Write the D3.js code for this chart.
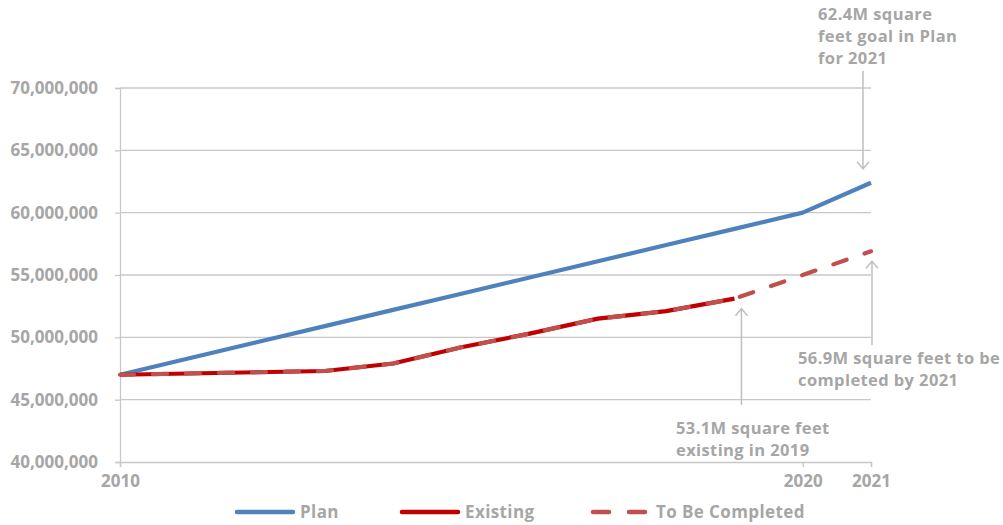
<!DOCTYPE html>
<html>
<head>
<meta charset="utf-8">
<script src="https://cdn.jsdelivr.net/npm/d3@7"></script>
<style>
  html, body { margin: 0; padding: 0; background: #fff; }
  svg { display: block; }
  text { font-family: "Open Sans", Lato, sans-serif; font-weight: 700; fill: #A6A6A6; }
</style>
</head>
<body>
<svg id="chart" width="1003" height="525"></svg>
<script>
// Square footage: plan target, existing space, and space still to be completed
const years = [2010, 2011, 2012, 2013, 2014, 2015, 2016, 2017, 2018, 2019, 2020, 2021];
const planValues = [47.0, 48.3, 49.6, 50.9, 52.2, 53.5, 54.8, 56.1, 57.4, 58.7, 60.0, 62.4].map(v => v * 1e6);
const existingValues = [47.0, 47.1, 47.2, 47.3, 47.9, 49.2, 50.3, 51.5, 52.1, 53.1].map(v => v * 1e6);
const toBeCompletedValues = [47.0, 47.1, 47.2, 47.3, 47.9, 49.2, 50.3, 51.5, 52.1, 53.1, 55.0, 56.9].map(v => v * 1e6);
const yTicks = [40e6, 45e6, 50e6, 55e6, 60e6, 65e6, 70e6];
const xTickYears = [2010, 2020, 2021];

const seriesNames = ["Plan", "Existing", "To Be Completed"];
const colors = { plan: "#4F81BD", existing: "#C00000", tbc: "#C0504D" };

const svg = d3.select("#chart");
const x = d3.scaleLinear().domain([2010, 2021]).range([120, 871]);
const y = d3.scaleLinear().domain([40e6, 70e6]).range([462, 88]);
const gray = "#C8C8C8";
const fontFamily = "'Open Sans', Lato, sans-serif";

// Horizontal gridlines
svg.append("g").selectAll("line")
  .data(yTicks.slice(1))
  .join("line")
  .attr("x1", x(2010)).attr("x2", x(2021))
  .attr("y1", d => y(d)).attr("y2", d => y(d))
  .attr("stroke", gray).attr("stroke-width", 1.3);

// Y axis
const yAxis = svg.append("g")
  .attr("transform", `translate(${x(2010)},0)`)
  .call(d3.axisLeft(y).tickValues(yTicks).tickSize(5).tickPadding(17).tickFormat(d3.format(",")));
yAxis.select(".domain").attr("stroke", gray).attr("stroke-width", 1.3);
yAxis.selectAll(".tick line").attr("stroke", gray).attr("stroke-width", 1.3);
yAxis.selectAll("text").attr("font-size", 17).attr("fill", "#A6A6A6")
  .attr("font-family", fontFamily).attr("font-weight", 700);

// X axis
const xAxis = svg.append("g")
  .attr("transform", `translate(0,${y(40e6)})`)
  .call(d3.axisBottom(x).tickValues(xTickYears).tickSize(5).tickPadding(8).tickFormat(d3.format("d")));
xAxis.select(".domain").attr("stroke", gray).attr("stroke-width", 1.3);
xAxis.selectAll(".tick line").attr("stroke", gray).attr("stroke-width", 1.3);
xAxis.selectAll("text").attr("font-size", 17).attr("fill", "#A6A6A6")
  .attr("font-family", fontFamily).attr("font-weight", 700);

const line = d3.line().x((d, i) => x(years[i])).y(d => y(d));

svg.append("path").datum(planValues)
  .attr("d", line).attr("fill", "none")
  .attr("stroke", colors.plan).attr("stroke-width", 4.2).attr("stroke-linejoin", "round");

svg.append("path").datum(existingValues)
  .attr("d", line).attr("fill", "none")
  .attr("stroke", colors.existing).attr("stroke-width", 4.2).attr("stroke-linejoin", "round");

svg.append("path").datum(toBeCompletedValues)
  .attr("d", line).attr("fill", "none")
  .attr("stroke", colors.tbc).attr("stroke-width", 4.2)
  .attr("stroke-linecap", "round").attr("stroke-linejoin", "round")
  .attr("stroke-dasharray", "14,19");

// Annotation arrows
const arrowColor = "#BFBFBF";
function arrow(xp, yFrom, yTip) {
  const g = svg.append("g").attr("stroke", arrowColor).attr("stroke-width", 1.5).attr("fill", "none");
  g.append("line").attr("x1", xp).attr("x2", xp).attr("y1", yFrom).attr("y2", yTip);
  const dir = yTip > yFrom ? -1 : 1;
  g.append("polyline").attr("points",
    `${xp - 6},${yTip + dir * 7} ${xp},${yTip} ${xp + 6},${yTip + dir * 7}`);
}
arrow(x(2021) - 8, 71, y(62.4e6) - 14);
arrow(x(2021) + 1, 345, y(56.9e6) + 10);
arrow(x(2019) + 7, 405, y(53.1e6) + 10);

// Annotation text
function note(xp, yBase, lines) {
  const t = svg.append("text").attr("font-size", 16.5).attr("letter-spacing", 0.4);
  lines.forEach((s, i) => t.append("tspan").attr("x", xp).attr("y", yBase + i * 22).text(s));
}
note(818, 20, ["62.4M square", "feet goal in Plan", "for 2021"]);
note(798, 364, ["56.9M square feet to be", "completed by 2021"]);
note(676, 434, ["53.1M square feet", "existing in 2019"]);

// Legend
const legend = svg.append("g");
const legendItems = [
  { name: seriesNames[0], color: colors.plan, x0: 237, dash: null },
  { name: seriesNames[1], color: colors.existing, x0: 402, dash: null },
  { name: seriesNames[2], color: colors.tbc, x0: 593, dash: "16,20" }
];
legendItems.forEach(item => {
  legend.append("line")
    .attr("x1", item.x0).attr("x2", item.x0 + 56)
    .attr("y1", 512).attr("y2", 512)
    .attr("stroke", item.color).attr("stroke-width", 4.5)
    .attr("stroke-linecap", "round")
    .attr("stroke-dasharray", item.dash);
  legend.append("text")
    .attr("x", item.x0 + 63).attr("y", 518)
    .attr("font-size", 17).attr("letter-spacing", 0.4).text(item.name);
});
</script>
</body>
</html>
